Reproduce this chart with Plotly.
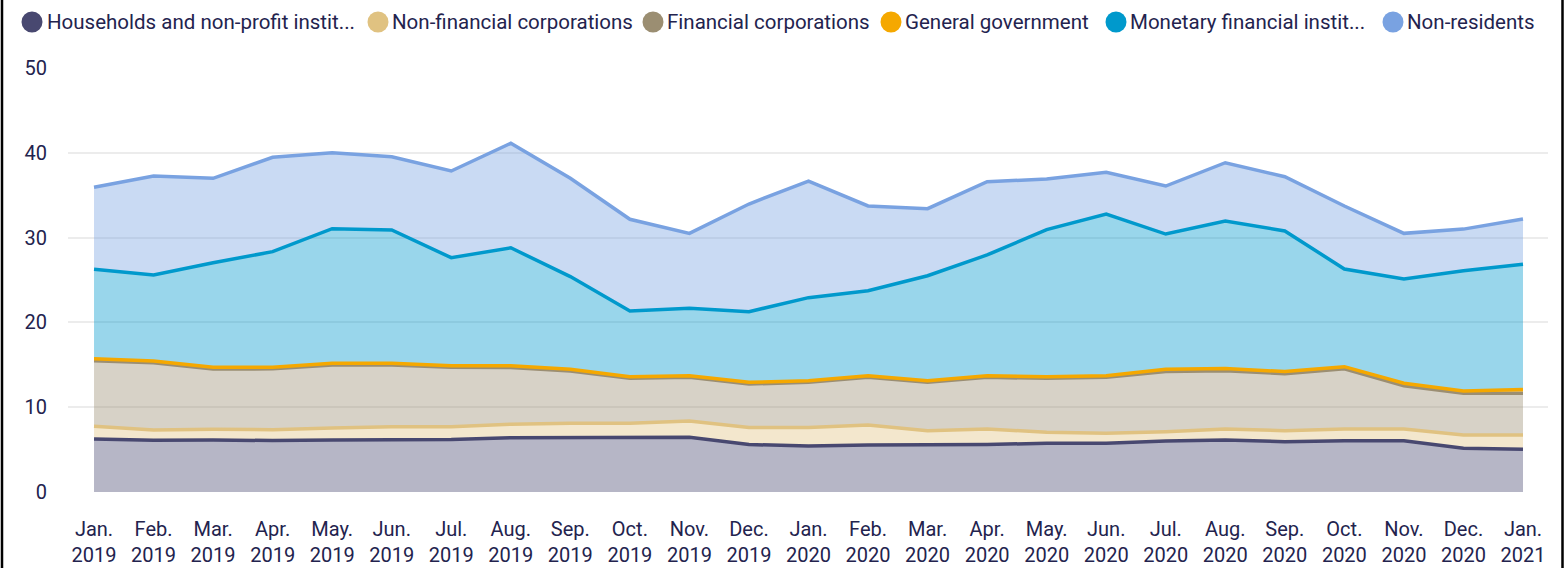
import plotly.graph_objects as go

# Monthly periods (x axis categories)
months = [
    "Jan.<br>2019", "Feb.<br>2019", "Mar.<br>2019", "Apr.<br>2019", "May.<br>2019",
    "Jun.<br>2019", "Jul.<br>2019", "Aug.<br>2019", "Sep.<br>2019", "Oct.<br>2019",
    "Nov.<br>2019", "Dec.<br>2019", "Jan.<br>2020", "Feb.<br>2020", "Mar.<br>2020",
    "Apr.<br>2020", "May.<br>2020", "Jun.<br>2020", "Jul.<br>2020", "Aug.<br>2020",
    "Sep.<br>2020", "Oct.<br>2020", "Nov.<br>2020", "Dec.<br>2020", "Jan.<br>2021",
]

# Holdings by sector (stacked)
households = [6.25, 6.10, 6.13, 6.07, 6.13, 6.20, 6.20, 6.40, 6.40, 6.40, 6.45, 5.60, 5.42,
              5.55, 5.55, 5.60, 5.75, 5.75, 6.00, 6.13, 5.93, 6.05, 6.05, 5.15, 5.03]
non_financial = [1.50, 1.20, 1.27, 1.28, 1.42, 1.50, 1.50, 1.60, 1.70, 1.70, 1.92, 2.00, 2.18,
                 2.35, 1.68, 1.83, 1.29, 1.17, 1.10, 1.30, 1.30, 1.38, 1.38, 1.57, 1.69]
financial = [7.72, 7.93, 7.10, 7.17, 7.42, 7.27, 7.00, 6.68, 6.17, 5.30, 5.15, 5.13, 5.33,
             5.62, 5.70, 6.09, 6.36, 6.60, 7.12, 6.87, 6.72, 7.10, 5.09, 4.93, 4.93]
general_gov = [0.25, 0.22, 0.20, 0.20, 0.20, 0.20, 0.20, 0.20, 0.20, 0.20, 0.20, 0.20, 0.20,
               0.20, 0.20, 0.20, 0.20, 0.20, 0.25, 0.25, 0.25, 0.25, 0.30, 0.25, 0.45]
monetary_fi = [10.54, 10.15, 12.34, 13.62, 15.88, 15.73, 12.73, 13.92, 10.93, 7.74, 7.94, 8.33, 9.79,
               10.02, 12.37, 14.23, 17.35, 19.06, 15.95, 17.41, 16.58, 11.52, 12.30, 14.20, 14.75]
non_residents = [9.67, 11.66, 9.95, 11.13, 8.96, 8.64, 10.22, 12.32, 11.59, 10.82, 8.84, 12.70, 13.75,
                 9.99, 7.91, 8.65, 5.95, 4.92, 5.66, 6.87, 6.40, 7.43, 5.38, 4.90, 5.34]

series_names = [
    "Households and non-profit instit...",
    "Non-financial corporations",
    "Financial corporations",
    "General government",
    "Monetary financial instit...",
    "Non-residents",
]
series_values = [households, non_financial, financial, general_gov, monetary_fi, non_residents]
series_colors = ["#484870", "#e0c281", "#9b8e72", "#f5a800", "#0099cc", "#79a2e1"]

TEXT = "#23234e"
FONT = "Roboto"


def rgba(hex_color, alpha):
    h = hex_color.lstrip("#")
    r, g, b = int(h[0:2], 16), int(h[2:4], 16), int(h[4:6], 16)
    return f"rgba({r},{g},{b},{alpha})"


fig = go.Figure()
for name, vals, col in zip(series_names, series_values, series_colors):
    fig.add_trace(go.Scatter(
        x=months, y=vals, name=name, mode="lines",
        stackgroup="holdings",
        line=dict(color=col, width=3.5),
        fillcolor=rgba(col, 0.4),
        showlegend=False,
    ))

# Plot area geometry (pixels)
W, H = 1566, 568
ML, MR, MT, MB = 68, 18, 68, 76
PW, PH = W - ML - MR, H - MT - MB


def px_x(p):
    return (p - ML) / PW


def px_y(p):
    return (H - MB - p) / PH


# Custom legend row: circle marker + label
legend_circle_x = [32, 378, 653, 891, 1116, 1393]
legend_text_x = [45, 390, 665, 903, 1128, 1405]
legend_y = 22
annotations = []
shapes = []
for name, col, cx, tx in zip(series_names, series_colors, legend_circle_x, legend_text_x):
    shapes.append(dict(
        type="circle", xref="paper", yref="paper",
        xsizemode="pixel", ysizemode="pixel",
        xanchor=px_x(cx), yanchor=px_y(legend_y),
        x0=-10.5, x1=10.5, y0=-10.5, y1=10.5,
        fillcolor=col, line=dict(width=0),
    ))
    annotations.append(dict(
        text=name, xref="paper", yref="paper",
        x=px_x(tx), y=px_y(legend_y), xanchor="left", yanchor="middle",
        showarrow=False, font=dict(family=FONT, size=20.5, color=TEXT),
    ))

# Frame lines at the left and right edges
for edge in (2, 1562.5):
    shapes.append(dict(
        type="line", xref="paper", yref="paper",
        x0=px_x(edge), x1=px_x(edge), y0=-0.3, y1=1.3,
        line=dict(color="#000000", width=2.5),
    ))

fig.update_layout(
    width=W, height=H,
    margin=dict(l=ML, r=MR, t=MT, b=MB),
    paper_bgcolor="white", plot_bgcolor="white",
    font=dict(family=FONT, size=20, color=TEXT),
    showlegend=False,
    annotations=annotations,
    shapes=shapes,
    xaxis=dict(
        type="category", range=[-0.437, 24.42], automargin=False,
        showgrid=False, zeroline=False, showline=False, ticks="",
        tickfont=dict(family=FONT, size=20, color=TEXT),
        ticklabelstandoff=23,
    ),
    yaxis=dict(
        range=[0, 50], tickvals=[0, 10, 20, 30, 40, 50], automargin=False,
        showgrid=True, gridcolor="#ececec", gridwidth=2,
        zeroline=False, showline=False, ticks="",
        tickfont=dict(family=FONT, size=20, color=TEXT),
        ticklabelstandoff=20,
    ),
)

fig.write_html("out.html")
